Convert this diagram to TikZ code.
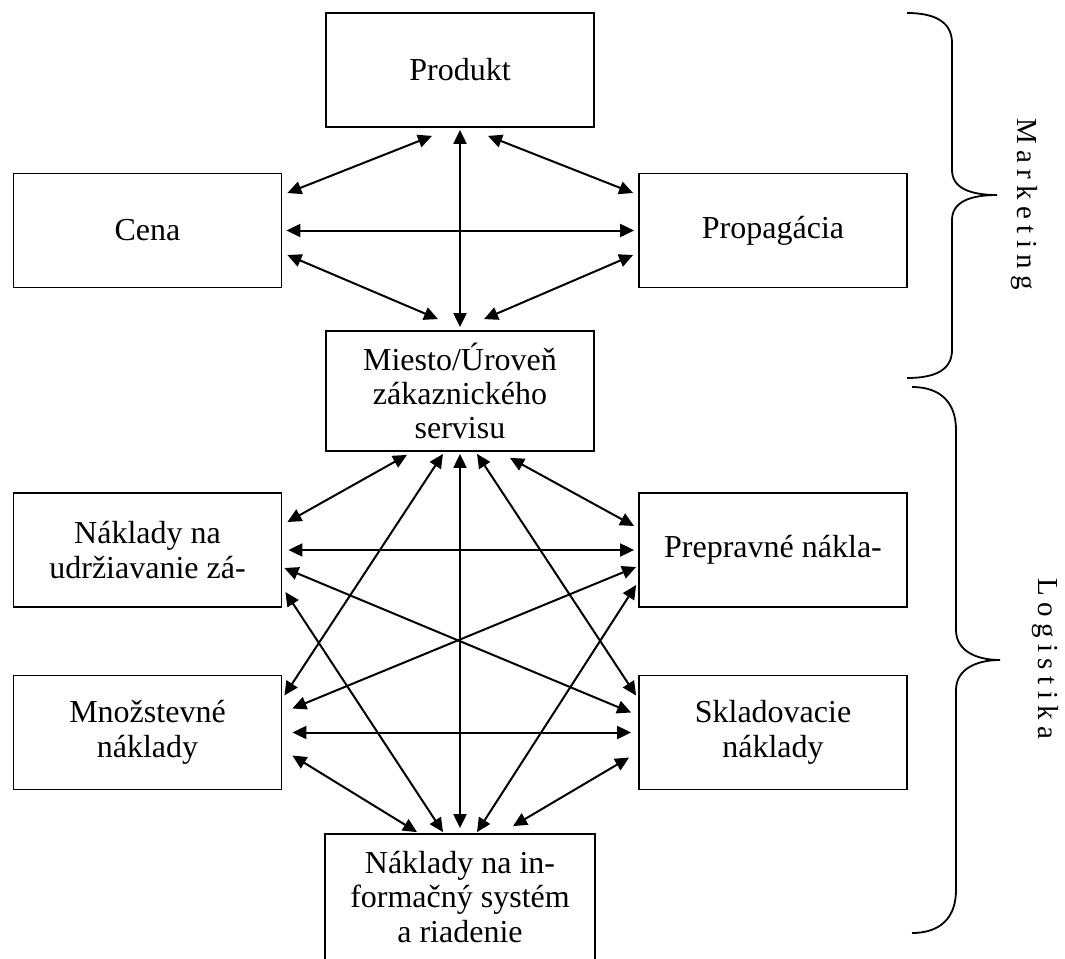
\documentclass[tikz,border=0pt]{standalone}
\usepackage{fontspec}
\setmainfont{Liberation Serif}
\usetikzlibrary{arrows.meta,calc}

\begin{document}
\begin{tikzpicture}[x=0.5pt, y=-0.5pt,
  box/.style = {draw, line width=0.9pt, align=center,
    minimum width=134pt, minimum height=57pt,
    font=\fontsize{16}{17.2}\selectfont},
  link/.style = {{Triangle[length=7pt,width=6.5pt]}-{Triangle[length=7pt,width=6.5pt]},
    line width=1pt},
  side/.style = {rotate=-90,
    font=\fontsize{14.5}{16}\selectfont\addfontfeature{LetterSpace=22}}]
  \useasboundingbox (0,0) rectangle (1065,958);

  % marketing
  \node[box] (prod) at (460,70) {Produkt};
  \node[box] (cena) at (147.5,230.5) {Cena};
  \node[box] (prop) at (773,230.5) {Propagácia};
  \node[box, minimum height=60pt] (miesto) at (460,391)
    {Miesto/Úroveň\\zákaznického\\servisu};

  % logistika
  \node[box] (udrz) at (147.5,550) {Náklady na\\udržiavanie zá-};
  \node[box] (prep) at (773,550) {Prepravné nákla-};
  \node[box] (mnoz) at (147.5,732.5) {Množstevné\\náklady};
  \node[box] (sklad) at (773,732.5) {Skladovacie\\náklady};
  \node[box, draw=none, minimum height=62pt] (info) at (460,897)
    {Náklady na in-\\formačný systém\\a riadenie};
  \draw[line width=0.9pt] (info.south west) -- (info.north west)
    -- (info.north east) -- (info.south east);

  \draw[link] ($(prod.south)+(-28,8)$) -- ($(cena.east)+(5,-37.5)$);
  \draw[link] ($(prod.south)+(28,8)$) -- ($(prop.west)+(-5,-37.5)$);
  \draw[link] ($(prod.south)+(0,2)$) -- ($(miesto.north)+(0,-3)$);
  \draw[link] ($(cena.east)+(4,0)$) -- ($(prop.west)+(-4,0)$);
  \draw[link] ($(cena.east)+(5,24.5)$) -- ($(miesto.north)+(-22,-11)$);
  \draw[link] ($(prop.west)+(-5,24.5)$) -- ($(miesto.north)+(24,-11)$);

  \draw[link] ($(miesto.south)+(-53,3)$) -- ($(udrz.east)+(5,-28)$);
  \draw[link] ($(miesto.south)+(-17,2)$) -- ($(mnoz.east)+(2,-37)$);
  \draw[link] ($(miesto.south)+(0,2)$) -- ($(info.north)+(0,-6)$);
  \draw[link] ($(miesto.south)+(17,2)$) -- ($(sklad.west)+(-2,-37)$);
  \draw[link] ($(miesto.south)+(50,6)$) -- ($(prep.west)+(-4,-24)$);

  \draw[link] ($(udrz.east)+(6,0)$) -- ($(prep.west)+(-4,0)$);
  \draw[link] ($(mnoz.east)+(10,0)$) -- ($(sklad.west)+(-7,0)$);
  \draw[link] ($(udrz.east)+(2,18)$) -- ($(sklad.west)+(-7,-20)$);
  \draw[link] ($(prep.west)+(-2,17)$) -- ($(mnoz.east)+(10,-24)$);
  \draw[link] ($(udrz.east)+(3,42)$) -- ($(info.north)+(-17,-2)$);
  \draw[link] ($(prep.west)+(-2,35)$) -- ($(info.north)+(17,-2)$);
  \draw[link] ($(mnoz.east)+(10,23)$) -- ($(info.north)+(-43,-2)$);
  \draw[link] ($(sklad.west)+(-9,25)$) -- ($(info.north)+(53,-8)$);

  % braces
  \draw[line width=0.9pt] (907,13) .. controls (935,13) and (952,22) .. (952,43)
    -- (952,170) .. controls (952,188) and (970,195) .. (997,195)
    .. controls (970,195) and (952,202) .. (952,220)
    -- (952,350) .. controls (952,370) and (935,378) .. (907,378);
  \draw[line width=0.9pt] (912,387) .. controls (940,387) and (956,402) .. (956,430)
    -- (956,630) .. controls (956,650) and (975,660) .. (1000,660)
    .. controls (975,660) and (956,670) .. (956,690)
    -- (956,890) .. controls (956,918) and (940,933) .. (912,933);
  \node[side] (mkt) at (1024,204) {Marketing};
  \node[side] (log) at (1045,659) {Logistika};
\end{tikzpicture}
\end{document}
